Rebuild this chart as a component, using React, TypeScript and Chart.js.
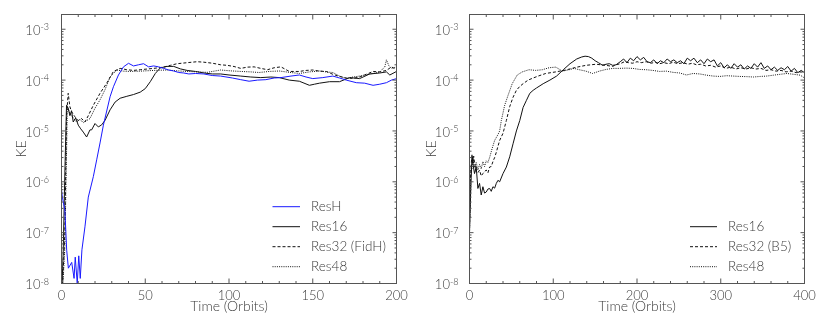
import React, { useEffect, useRef } from 'react';
import { Chart, registerables } from 'chart.js';

Chart.register(...registerables);

// ---------------- Data ----------------
// Left panel (0..200 orbits)
const leftResH_t = [0, 0.5, 2, 3.1, 4.1, 6.1, 7.5, 8.2, 9.4, 10.3, 11.2, 12.2, 14, 16, 19, 21, 23, 25, 29, 31, 34, 37, 40, 43, 46, 49, 52, 55, 58, 61, 64, 67, 70, 73, 76, 80, 85, 90, 95, 102, 107, 112, 117, 122, 127, 131, 137, 142, 146, 150, 156, 162, 166, 170, 176, 181, 186, 190, 194, 197, 200];
const leftResH_v = [7.0e-7, 5.0e-7, 2.8e-7, 4.5e-8, 2.0e-8, 2.6e-8, 1.26e-8, 3.3e-8, 1.0e-8, 3.5e-8, 1.26e-8, 4.6e-8, 1.3e-7, 5.0e-7, 1.26e-6, 2.7e-6, 5.8e-6, 1.3e-5, 4.7e-5, 7.4e-5, 1.26e-4, 1.82e-4, 2.14e-4, 1.9e-4, 2.0e-4, 2.1e-4, 1.82e-4, 1.9e-4, 1.82e-4, 1.7e-4, 1.58e-4, 1.51e-4, 1.41e-4, 1.38e-4, 1.32e-4, 1.35e-4, 1.32e-4, 1.23e-4, 1.2e-4, 1.1e-4, 1.02e-4, 9.5e-5, 1.0e-4, 1.02e-4, 1.1e-4, 1.12e-4, 1.2e-4, 1.26e-4, 1.15e-4, 1.07e-4, 1.12e-4, 1.2e-4, 1.1e-4, 1.0e-4, 8.9e-5, 8.7e-5, 7.9e-5, 8.3e-5, 8.9e-5, 1.0e-4, 1.07e-4];

const leftRes16_t = [0, 1, 2, 3, 4, 5, 6, 7, 8.5, 10, 11.5, 13, 15, 17, 18, 20, 22, 24, 26, 29, 32, 35, 39, 43, 47, 50, 53, 56, 59, 63, 67, 71, 75, 80, 85, 90, 95, 100, 107, 113, 119, 125, 130, 136, 142, 148, 151, 154, 160, 166, 172, 178, 184, 190, 194, 196, 200];
const leftRes16_v = [5e-9, 4e-8, 1.5e-6, 3.2e-5, 2.8e-5, 2.0e-5, 2.5e-5, 1.5e-5, 1.8e-5, 1.3e-5, 1.1e-5, 9.5e-6, 7.6e-6, 1.05e-5, 1.05e-5, 1.4e-5, 1.2e-5, 1.32e-5, 1.62e-5, 2.6e-5, 3.7e-5, 4.4e-5, 4.8e-5, 5.2e-5, 5.8e-5, 6.8e-5, 9.3e-5, 1.35e-4, 1.74e-4, 1.86e-4, 1.86e-4, 1.66e-4, 1.55e-4, 1.48e-4, 1.38e-4, 1.32e-4, 1.32e-4, 1.26e-4, 1.2e-4, 1.15e-4, 1.12e-4, 1.15e-4, 1.12e-4, 1.0e-4, 9.5e-5, 7.9e-5, 8.3e-5, 8.7e-5, 9.3e-5, 9.3e-5, 1.12e-4, 1.07e-4, 1.32e-4, 1.38e-4, 1.45e-4, 1.26e-4, 1.48e-4];

const leftRes32_t = [0, 2, 3, 4, 5, 6, 8, 10, 12, 14, 16, 19, 23, 27, 31, 35, 39, 43, 47, 51, 55, 61, 65, 69, 75, 81, 85, 90, 95, 99, 103, 107, 111, 115, 119, 123, 127, 131, 136, 142, 146, 150, 154, 158, 162, 166, 170, 174, 178, 182, 186, 190, 194, 197, 200];
const leftRes32_v = [3e-9, 1e-7, 2e-5, 5.5e-5, 3.0e-5, 2.4e-5, 1.9e-5, 1.6e-5, 1.75e-5, 1.5e-5, 2.0e-5, 3.2e-5, 5.5e-5, 8.7e-5, 1.48e-4, 1.7e-4, 1.6e-4, 1.55e-4, 1.6e-4, 1.65e-4, 1.7e-4, 1.8e-4, 1.95e-4, 2.1e-4, 2.2e-4, 2.3e-4, 2.25e-4, 2.15e-4, 2.0e-4, 1.95e-4, 1.85e-4, 1.7e-4, 1.8e-4, 1.82e-4, 1.7e-4, 1.6e-4, 1.75e-4, 1.82e-4, 1.48e-4, 1.48e-4, 1.55e-4, 1.58e-4, 1.5e-4, 1.48e-4, 1.3e-4, 1.18e-4, 1.1e-4, 1.08e-4, 1.15e-4, 1.3e-4, 1.48e-4, 1.45e-4, 1.55e-4, 1.82e-4, 1.6e-4];

const leftRes48_t = [0, 2, 3.5, 5, 7, 9, 11, 13, 15, 17, 20, 23, 26, 29, 33, 37, 41, 47, 55, 63, 69, 75, 81, 87, 95, 101, 107, 113, 118, 124, 130, 136, 142, 148, 154, 158, 162, 166, 170, 174, 178, 182, 186, 190, 193, 194, 195.5, 197, 200];
const leftRes48_v = [3e-9, 5e-8, 3e-5, 2.2e-5, 1.8e-5, 1.5e-5, 1.7e-5, 1.45e-5, 1.6e-5, 1.75e-5, 2.8e-5, 4.1e-5, 6.5e-5, 1.15e-4, 1.58e-4, 1.5e-4, 1.48e-4, 1.5e-4, 1.55e-4, 1.58e-4, 1.52e-4, 1.48e-4, 1.45e-4, 1.42e-4, 1.58e-4, 1.52e-4, 1.48e-4, 1.45e-4, 1.41e-4, 1.48e-4, 1.51e-4, 1.42e-4, 1.35e-4, 1.45e-4, 1.51e-4, 1.45e-4, 1.41e-4, 1.2e-4, 1.07e-4, 1.15e-4, 1.2e-4, 1.28e-4, 1.35e-4, 1.45e-4, 1.82e-4, 2.5e-4, 1.9e-4, 1.7e-4, 1.82e-4];

// Right panel (0..400 orbits)
const rightRes16_t = [0, 1, 2, 3, 4, 6, 8, 10, 12, 14, 16, 18, 20, 22, 24, 26, 28, 30, 32, 34, 36, 40, 44, 48, 52, 56, 60, 64, 68, 72, 76, 80, 88, 96, 104, 112, 120, 128, 134, 138, 142, 146, 150, 154, 159, 163, 167, 171, 175, 180, 184, 188, 192, 196, 200, 204, 208, 212, 216, 220, 224, 228, 232, 236, 240, 244, 248, 252, 256, 260, 264, 268, 272, 276, 280, 284, 288, 292, 296, 300, 304, 308, 312, 316, 320, 324, 328, 332, 336, 340, 344, 348, 352, 356, 360, 364, 368, 372, 376, 380, 384, 388, 392, 396, 400];
const rightRes16_v = [1e-7, 4e-7, 1.2e-6, 3e-6, 2.3e-6, 1.45e-6, 2.0e-6, 7.4e-7, 9.3e-7, 5.5e-7, 8e-7, 6e-7, 6.3e-7, 7.2e-7, 7.4e-7, 6.5e-7, 8e-7, 7.5e-7, 9.3e-7, 1.07e-6, 1.0e-6, 1.45e-6, 1.95e-6, 3.1e-6, 5.6e-6, 1.0e-5, 1.6e-5, 2.9e-5, 4.0e-5, 5.5e-5, 6.3e-5, 7.0e-5, 8.5e-5, 1.0e-4, 1.2e-4, 1.6e-4, 2.1e-4, 2.6e-4, 2.85e-4, 2.95e-4, 2.9e-4, 2.7e-4, 2.4e-4, 2.2e-4, 1.95e-4, 2.05e-4, 2.1e-4, 1.95e-4, 2.0e-4, 2.3e-4, 2.6e-4, 2.2e-4, 2.7e-4, 2.4e-4, 2.9e-4, 2.5e-4, 2.8e-4, 2.3e-4, 2.2e-4, 2.5e-4, 2.1e-4, 2.4e-4, 2.2e-4, 2.6e-4, 2.3e-4, 2.5e-4, 2.2e-4, 2.4e-4, 2.1e-4, 2.7e-4, 2.4e-4, 2.7e-4, 2.2e-4, 2.5e-4, 2.1e-4, 2.6e-4, 2.3e-4, 2.5e-4, 1.9e-4, 2.2e-4, 1.75e-4, 2.0e-4, 1.7e-4, 2.1e-4, 1.8e-4, 2.0e-4, 1.65e-4, 1.9e-4, 1.7e-4, 2.1e-4, 1.8e-4, 2.2e-4, 1.7e-4, 1.9e-4, 1.6e-4, 1.8e-4, 1.55e-4, 1.75e-4, 1.6e-4, 1.85e-4, 1.5e-4, 1.7e-4, 1.4e-4, 1.55e-4, 1.4e-4];

const rightRes32_t = [0, 1, 2, 3, 4, 5, 6, 8, 10, 12, 14, 16, 18, 20, 22, 24, 26, 28, 30, 32, 34, 36, 40, 44, 48, 52, 56, 60, 64, 70, 76, 82, 91, 103, 115, 127, 139, 151, 163, 171, 175, 180, 185, 190, 195, 200, 205, 211, 217, 222, 227, 232, 238, 243, 249, 255, 261, 266, 271, 276, 282, 288, 294, 300, 306, 312, 318, 324, 330, 336, 342, 348, 354, 360, 366, 372, 378, 384, 390, 396, 400];
const rightRes32_v = [1e-7, 1e-6, 2.2e-6, 3.5e-6, 2.5e-6, 3.2e-6, 2.4e-6, 1.55e-6, 1.5e-6, 1.7e-6, 1.3e-6, 1.45e-6, 1.6e-6, 1.7e-6, 1.5e-6, 1.95e-6, 2.0e-6, 2.5e-6, 3.0e-6, 3.8e-6, 5.0e-6, 6.5e-6, 9.0e-6, 1.6e-5, 3.0e-5, 4.6e-5, 6.3e-5, 7.5e-5, 8.5e-5, 1.0e-4, 1.1e-4, 1.2e-4, 1.35e-4, 1.45e-4, 1.58e-4, 1.78e-4, 1.95e-4, 2.05e-4, 1.95e-4, 1.86e-4, 2.0e-4, 2.1e-4, 2.3e-4, 2.2e-4, 2.15e-4, 2.3e-4, 2.2e-4, 2.3e-4, 2.15e-4, 2.25e-4, 2.1e-4, 2.2e-4, 2.1e-4, 2.25e-4, 2.1e-4, 2.2e-4, 2.05e-4, 2.15e-4, 2.0e-4, 2.05e-4, 1.9e-4, 1.95e-4, 1.8e-4, 1.9e-4, 1.7e-4, 1.8e-4, 1.65e-4, 1.75e-4, 1.65e-4, 1.75e-4, 1.65e-4, 1.7e-4, 1.55e-4, 1.6e-4, 1.5e-4, 1.55e-4, 1.45e-4, 1.5e-4, 1.4e-4, 1.45e-4, 1.35e-4];

const rightRes48_t = [0, 1, 2, 3, 4, 6, 8, 10, 12, 14, 16, 18, 20, 22, 24, 27, 30, 34, 36, 38, 42, 46, 51, 57, 63, 71, 79, 87, 95, 103, 111, 119, 125, 131, 139, 147, 155, 163, 171, 179, 187, 195, 203, 211, 219, 227, 235, 243, 251, 259, 267, 275, 283, 291, 299, 307, 315, 323, 331, 339, 347, 355, 363, 371, 379, 387, 395, 400];
const rightRes48_v = [1e-7, 8e-7, 2e-6, 1.8e-6, 2.8e-6, 1.9e-6, 2.4e-6, 1.7e-6, 2.2e-6, 1.8e-6, 2.5e-6, 2.0e-6, 2.6e-6, 2.4e-6, 3.0e-6, 4.5e-6, 6.5e-6, 8.5e-6, 1.0e-5, 1.6e-5, 3.2e-5, 5.0e-5, 8.5e-5, 1.26e-4, 1.45e-4, 1.6e-4, 1.55e-4, 1.6e-4, 1.75e-4, 1.8e-4, 1.5e-4, 1.6e-4, 1.7e-4, 1.6e-4, 1.5e-4, 1.35e-4, 1.5e-4, 1.62e-4, 1.7e-4, 1.7e-4, 1.72e-4, 1.7e-4, 1.62e-4, 1.6e-4, 1.55e-4, 1.48e-4, 1.5e-4, 1.42e-4, 1.38e-4, 1.26e-4, 1.35e-4, 1.32e-4, 1.25e-4, 1.2e-4, 1.18e-4, 1.22e-4, 1.2e-4, 1.18e-4, 1.17e-4, 1.15e-4, 1.18e-4, 1.2e-4, 1.25e-4, 1.3e-4, 1.35e-4, 1.3e-4, 1.25e-4, 1.1e-4];

// Axis ticks / labels
const yTickValues = [1e-8, 1e-7, 1e-6, 1e-5, 1e-4, 1e-3];
const yMin = 1e-8;
const yMax = 1.95e-3;
const xTitle = 'Time (Orbits)';
const yTitle = 'KE';
const leftLabels = ['ResH', 'Res16', 'Res32 (FidH)', 'Res48'];
const rightLabels = ['Res16', 'Res32 (B5)', 'Res48'];

// ---------------- Styling ----------------
const FONT = "Lato, 'Liberation Sans', Arial, sans-serif";
const WEIGHT = 300;
const TEXT = '#3c3c3c';
const AXIS = '#555';
const BLUE = 'rgb(25,25,255)';
const BLACK = '#111';
const SOLID: number[] = [];
const DASH = [3, 2];
const DOT = [1, 1.2];

function exponentOf(v: number): string {
  return String(Math.round(Math.log10(v)));
}

function pts(t: number[], v: number[]) {
  return t.map((x, i) => ({ x, y: v[i] }));
}

type Series = { label: string; t: number[]; v: number[]; color: string; dash: number[] };
type PanelCfg = {
  key: string;
  left: number;
  series: Series[];
  xMax: number;
  xStep: number;
  xMinor: number;
  yAxisWidth: number;
  rightPad: number;
  yTitlePad: number;
  yLabelGap: number;
  legend: { x0: number; x1: number; tx: number; y0: number; dy: number };
};

function framePlugin(cfg: PanelCfg) {
  return {
    id: 'frame_' + cfg.key,
    afterDraw(chart: any) {
      const { ctx, chartArea: a, scales } = chart;
      const xs = scales.x;
      const ys = scales.y;
      ctx.save();
      ctx.strokeStyle = AXIS;
      ctx.lineWidth = 1;
      ctx.setLineDash([]);
      ctx.strokeRect(a.left, a.top, a.right - a.left, a.bottom - a.top);
      ctx.beginPath();
      // x ticks (bottom and top, pointing inward)
      for (let v = 0; v <= cfg.xMax + 1e-9; v += cfg.xMinor) {
        const px = xs.getPixelForValue(v);
        const major = Math.abs(v % cfg.xStep) < 1e-9;
        const len = major ? 5 : 2.5;
        ctx.moveTo(px, a.bottom);
        ctx.lineTo(px, a.bottom - len);
        ctx.moveTo(px, a.top);
        ctx.lineTo(px, a.top + len);
      }
      // y ticks (left and right, pointing inward), major at decades, minor at 2..9
      for (const dv of yTickValues) {
        for (let k = 1; k <= 9; k++) {
          const v = dv * k;
          if (v > yMax) continue;
          const py = ys.getPixelForValue(v);
          const len = k === 1 ? 4 : 2;
          ctx.moveTo(a.left, py);
          ctx.lineTo(a.left + len, py);
          ctx.moveTo(a.right, py);
          ctx.lineTo(a.right - len, py);
        }
      }
      ctx.stroke();

      // y tick labels: "10" with a raised exponent
      ctx.fillStyle = TEXT;
      ctx.textAlign = 'right';
      ctx.textBaseline = 'alphabetic';
      for (const v of yTickValues) {
        const py = ys.getPixelForValue(v);
        const exp = exponentOf(v);
        const xr = a.left - cfg.yLabelGap;
        ctx.font = `${WEIGHT} 9px ${FONT}`;
        const ew = ctx.measureText(exp).width;
        ctx.fillText(exp, xr, py + 1.2);
        ctx.font = `${WEIGHT} 13px ${FONT}`;
        ctx.fillText('10', xr - ew, py + 5.6);
      }

      // legend inside the plot area (lower right)
      const L = cfg.legend;
      ctx.font = `${WEIGHT} 13.5px ${FONT}`;
      ctx.textBaseline = 'middle';
      ctx.textAlign = 'left';
      chart.data.datasets.forEach((ds: any, i: number) => {
        const y = L.y0 + i * L.dy;
        ctx.beginPath();
        ctx.strokeStyle = ds.borderColor;
        ctx.lineWidth = ds.borderWidth;
        ctx.setLineDash(ds.borderDash || []);
        ctx.moveTo(L.x0, y);
        ctx.lineTo(L.x1, y);
        ctx.stroke();
        ctx.setLineDash([]);
        ctx.fillStyle = TEXT;
        ctx.fillText(ds.label, L.tx, y);
      });
      ctx.restore();
    },
  };
}

function buildConfig(cfg: PanelCfg): any {
  return {
    type: 'line',
    data: {
      datasets: cfg.series.map((s) => ({
        label: s.label,
        data: pts(s.t, s.v),
        borderColor: s.color,
        backgroundColor: s.color,
        borderWidth: 1,
        borderDash: s.dash,
        pointRadius: 0,
        pointHoverRadius: 0,
        tension: 0,
        fill: false,
      })),
    },
    options: {
      responsive: false,
      animation: false,
      devicePixelRatio: 1,
      events: [],
      layout: { padding: { top: 14.5, right: cfg.rightPad, bottom: 0, left: 0 } },
      plugins: { legend: { display: false }, tooltip: { enabled: false }, title: { display: false } },
      scales: {
        x: {
          type: 'linear',
          min: 0,
          max: cfg.xMax,
          grid: { display: false, drawTicks: false },
          border: { display: false },
          ticks: { stepSize: cfg.xStep, padding: 5, maxRotation: 0, color: TEXT, font: { family: FONT, size: 13, weight: WEIGHT } },
          title: { display: true, text: xTitle, color: TEXT, font: { family: FONT, size: 14, weight: WEIGHT }, padding: { top: 0, bottom: 18 } },
          afterFit: (s: any) => {
            s.height = 49.5;
          },
        },
        y: {
          type: 'logarithmic',
          min: yMin,
          max: yMax,
          grid: { display: false, drawTicks: false },
          border: { display: false },
          afterBuildTicks: (s: any) => {
            s.ticks = yTickValues.map((v) => ({ value: v }));
          },
          ticks: { display: false },
          title: { display: true, text: yTitle, color: TEXT, font: { family: FONT, size: 14, weight: WEIGHT }, padding: { top: cfg.yTitlePad, bottom: 0 } },
          afterFit: (s: any) => {
            s.width = cfg.yAxisWidth;
          },
        },
      },
    },
    plugins: [framePlugin(cfg)],
  };
}

const leftCfg: PanelCfg = {
  key: 'left',
  left: 0,
  series: [
    { label: leftLabels[0], t: leftResH_t, v: leftResH_v, color: BLUE, dash: SOLID },
    { label: leftLabels[1], t: leftRes16_t, v: leftRes16_v, color: BLACK, dash: SOLID },
    { label: leftLabels[2], t: leftRes32_t, v: leftRes32_v, color: BLACK, dash: DASH },
    { label: leftLabels[3], t: leftRes48_t, v: leftRes48_v, color: BLACK, dash: DOT },
  ],
  xMax: 200,
  xStep: 50,
  xMinor: 10,
  yAxisWidth: 61.5,
  rightPad: 18.5,
  yTitlePad: 12.6,
  yLabelGap: 12.5,
  legend: { x0: 272.5, x1: 300, tx: 311, y0: 206.7, dy: 20 },
};

const rightCfg: PanelCfg = {
  key: 'right',
  left: 415,
  series: [
    { label: rightLabels[0], t: rightRes16_t, v: rightRes16_v, color: BLACK, dash: SOLID },
    { label: rightLabels[1], t: rightRes32_t, v: rightRes32_v, color: BLACK, dash: DASH },
    { label: rightLabels[2], t: rightRes48_t, v: rightRes48_v, color: BLACK, dash: DOT },
  ],
  xMax: 400,
  xStep: 100,
  xMinor: 20,
  yAxisWidth: 54.5,
  rightPad: 25.5,
  yTitlePad: 7.8,
  yLabelGap: 11,
  legend: { x0: 275, x1: 302, tx: 313, y0: 226.7, dy: 20 },
};

function Panel({ cfg }: { cfg: PanelCfg }) {
  const ref = useRef<HTMLCanvasElement>(null);
  useEffect(() => {
    if (!ref.current) return;
    const chart = new Chart(ref.current, buildConfig(cfg));
    return () => chart.destroy();
  }, [cfg]);
  return (
    <canvas
      ref={ref}
      width={415}
      height={333}
      style={{ position: 'absolute', left: cfg.left, top: 0, width: 415, height: 333 }}
    />
  );
}

export default function App() {
  return (
    <div style={{ position: 'absolute', left: 0, top: 0, width: 830, height: 333, background: '#fff', overflow: 'hidden' }}>
      <Panel cfg={leftCfg} />
      <Panel cfg={rightCfg} />
    </div>
  );
}
